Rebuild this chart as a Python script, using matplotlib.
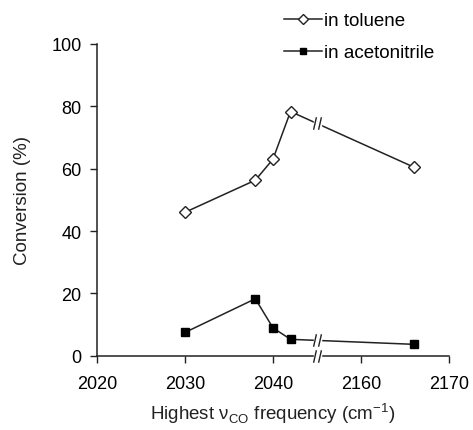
import numpy as np
import matplotlib
matplotlib.use("Agg")
import matplotlib.pyplot as plt
from matplotlib.path import Path

plt.rcParams['font.family'] = ['Liberation Sans', 'DejaVu Sans']

# data
freq = [2030, 2038, 2040, 2042, 2166]
toluene = [46, 56.3, 63, 78.3, 60.5]
acetonitrile = [7.5, 18.3, 9, 5.3, 3.7]
xticks = [2020, 2030, 2040, 2160, 2170]
yticks = [0, 20, 40, 60, 80, 100]


# broken x axis: 2020-2045 | 2155-2170
def fwd(x):
    x = np.asarray(x, dtype=float)
    return np.where(x <= 2045, (x - 2020) / 10.0,
                    np.where(x >= 2155, (x - 2160) / 10.0 + 3, 2.5))


def inv(p):
    p = np.asarray(p, dtype=float)
    return np.where(p <= 2.5, 2020 + 10 * p, 2160 + 10 * (p - 3))


fig = plt.figure(figsize=(4.73, 4.31), dpi=100)
ax = fig.add_axes([0.205, 0.172, 0.744, 0.724])
ax.set_xscale('function', functions=(fwd, inv))

ax.plot(freq, toluene, color='#222222', lw=1.1, marker='D', ms=6.3,
        mfc='white', mec='#222222', mew=1.0, label='in toluene', zorder=3)
ax.plot(freq, acetonitrile, color='#222222', lw=1.1, marker='s', ms=6.0,
        mfc='black', mec='black', label='in acetonitrile', zorder=3)

# break symbols "//"
brk = Path([(-2.2, -3.5), (-0.6, 3.5), (0.6, -3.5), (2.2, 3.5)],
           [Path.MOVETO, Path.LINETO, Path.MOVETO, Path.LINETO])
gap = Path([(-1.4, -2.5), (1.4, -2.5), (1.4, 2.5), (-1.4, 2.5), (-1.4, -2.5)])
for ys in (toluene, acetonitrile):
    # point where the segment crosses the break, in scaled space
    p0, p1 = fwd(freq[3]), fwd(freq[4])
    yb = ys[3] + (ys[4] - ys[3]) * (2.5 - p0) / (p1 - p0)
    ax.plot([2045], [yb], marker=gap, ms=9, mfc='white', mec='white', zorder=4)
    ax.plot([2045], [yb], marker=brk, ms=9, mec='#222222', mew=1.0, zorder=5)
ax.plot([2045], [0], marker=gap, ms=9, mfc='white', mec='white', zorder=4, clip_on=False)
ax.plot([2045], [0], marker=brk, ms=9, mec='#222222', mew=1.0, zorder=5, clip_on=False)

ax.set_xlim(2020, 2170)
ax.set_ylim(0, 100)
ax.set_xticks(xticks)
ax.set_yticks(yticks)
ax.xaxis.set_minor_locator(matplotlib.ticker.NullLocator())
ax.set_xticklabels([str(t) for t in xticks])
ax.tick_params(direction='out', length=5, width=1, labelsize=13, color='#222222', pad=6)
ax.tick_params(axis='x', pad=9)
for s in ('top', 'right'):
    ax.spines[s].set_visible(False)
for s in ('left', 'bottom'):
    ax.spines[s].set_color('#222222')
    ax.spines[s].set_linewidth(1.1)

ax.set_ylabel('Conversion (%)', fontsize=13.5, color='#222222', labelpad=15)
ax.set_xlabel('Highest ν$_{\\mathregular{CO}}$ frequency (cm$^{\\mathregular{-1}}$)',
              fontsize=13.5, color='#222222', labelpad=6)

fig.legend(loc='upper left', bbox_to_anchor=(284 / 473, 1 - 13 / 431),
           frameon=False, fontsize=13.5, handlelength=2.0, handletextpad=0.15,
           labelspacing=0.8, borderaxespad=0, borderpad=0, markerscale=0.75)

fig.savefig('out.png', dpi=100)
